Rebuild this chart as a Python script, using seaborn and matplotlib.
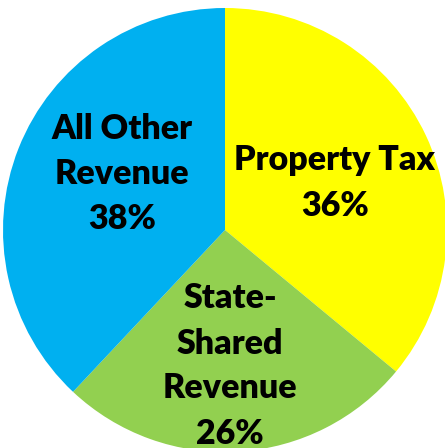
import matplotlib
matplotlib.use("Agg")
import matplotlib.pyplot as plt
import seaborn as sns

# Revenue shares (percent), clockwise from 12 o'clock
categories = ["Property Tax", "State-\nShared\nRevenue", "All Other\nRevenue"]
shares = [36, 26, 38]
colors = ["#FFFF00", "#92D050", "#00B0F0"]

# label centres in pixels (x from left, y from top)
label_pos = [(335, 183), (230, 366), (122, 174)]

sns.set_theme(style="white")
plt.rcParams["font.family"] = ["Lato", "DejaVu Sans"]

W, H = 445, 448
fig = plt.figure(figsize=(W / 100, H / 100), dpi=100)
ax = fig.add_axes([0, 0, 1, 1])

# y axis is flipped below, so start at -90 and run "counterclock" to go
# clockwise from the top on screen
ax.pie(shares, colors=colors, startangle=-90, counterclock=True,
       center=(225, 230), radius=222, frame=True,
       wedgeprops=dict(linewidth=0))
ax.set_xlim(0, W)
ax.set_ylim(H, 0)
ax.set_aspect("equal")
ax.axis("off")

for cat, val, (x, y) in zip(categories, shares, label_pos):
    ax.text(x, y, f"{cat}\n{val}%", ha="center", va="center",
            fontsize=24.5, fontweight="heavy", color="black", linespacing=1.5)

fig.savefig("out.png", dpi=100)
